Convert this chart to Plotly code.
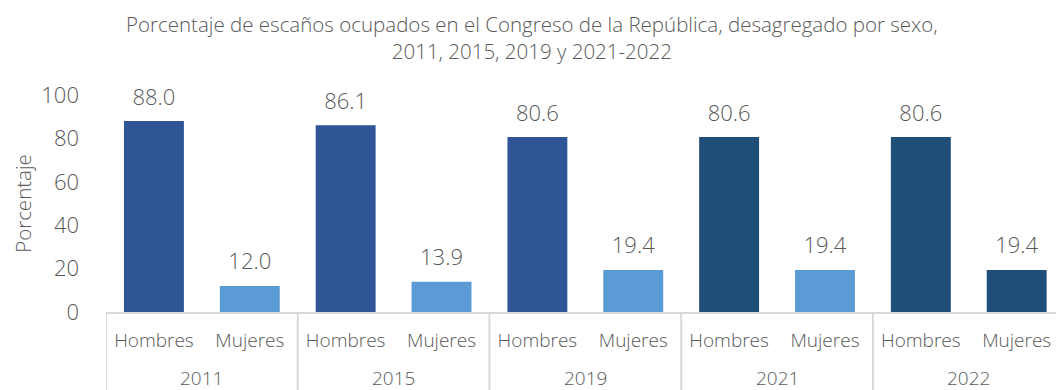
import plotly.graph_objects as go

years = ["2011", "2015", "2019", "2021", "2022"]
sexes = ["Hombres", "Mujeres"]
values = [88.0, 12.0, 86.1, 13.9, 80.6, 19.4, 80.6, 19.4, 80.6, 19.4]
colors = ["#2F5597", "#5B9BD5", "#2F5597", "#5B9BD5", "#2F5597", "#5B9BD5",
          "#1F4E79", "#5B9BD5", "#1F4E79", "#1F4E79"]
title_text = ("Porcentaje de escaños ocupados en el Congreso de la República, desagregado por sexo,"
              "<br>2011, 2015, 2019 y 2021-2022")

FONT = "Open Sans"
W = 300
GRAY = "#595959"
LINE = "#D9D9D9"

n_sex = len(sexes)
xpos = list(range(len(values)))
tick_text = [sexes[i % n_sex] for i in xpos]

fig = go.Figure()
fig.add_trace(go.Bar(
    x=xpos, y=values,
    marker=dict(color=colors, line=dict(width=0)),
    width=0.625, hoverinfo="skip",
))
fig.add_trace(go.Scatter(
    x=xpos, y=values, mode="markers+text",
    marker=dict(size=16, opacity=0),
    text=[f"{v:.1f}" for v in values],
    textposition="top center",
    textfont=dict(family=FONT, size=22, color=GRAY, weight=W),
    cliponaxis=False, hoverinfo="skip",
))

# group dividers and year labels (multi-level category axis)
for g, yr in enumerate(years):
    left = g * n_sex - 0.5
    fig.add_shape(type="line", xref="x", yref="paper", x0=left, x1=left,
                  y0=0, y1=-0.4, line=dict(color=LINE, width=2))
    fig.add_annotation(text=yr, xref="x", yref="paper", x=left + n_sex / 2,
                       y=-0.303, yanchor="middle", xanchor="center", showarrow=False,
                       font=dict(family=FONT, size=19, color=GRAY, weight=W))
fig.add_shape(type="line", xref="x", yref="paper", x0=len(values) - 0.5, x1=len(values) - 0.5,
              y0=0, y1=-0.4, line=dict(color=LINE, width=2))

fig.update_layout(
    width=1056, height=390,
    margin=dict(l=106, r=0, t=95, b=78),
    paper_bgcolor="white", plot_bgcolor="white",
    showlegend=False,
    font=dict(family=FONT, color=GRAY, weight=W),
)
fig.add_annotation(
    text=title_text, xref="paper", yref="paper", x=0.448, y=1.0,
    yshift=87, xanchor="center", yanchor="top", showarrow=False,
    font=dict(family=FONT, size=20.5, color=GRAY, weight=W),
)

fig.update_yaxes(
    range=[0, 100], dtick=20, showgrid=False, zeroline=False, showline=False,
    automargin=False, ticks="", ticklabelstandoff=26,
    tickfont=dict(family=FONT, size=22, color=GRAY, weight=W),
    title=dict(text="Porcentaje", font=dict(family=FONT, size=20.5, color=GRAY, weight=W), standoff=4),
)
fig.update_xaxes(
    range=[-0.5, 9.41], tickvals=xpos, ticktext=tick_text,
    showgrid=False, showline=True, linecolor=LINE, linewidth=2, zeroline=False,
    automargin=False, ticks="", ticklabelstandoff=10,
    tickfont=dict(family=FONT, size=19, color=GRAY, weight=W),
)

post = "document.body.style.margin='0';document.body.style.overflow='hidden';"
fig.write_html("out.html", post_script=post, config={"displayModeBar": False})
